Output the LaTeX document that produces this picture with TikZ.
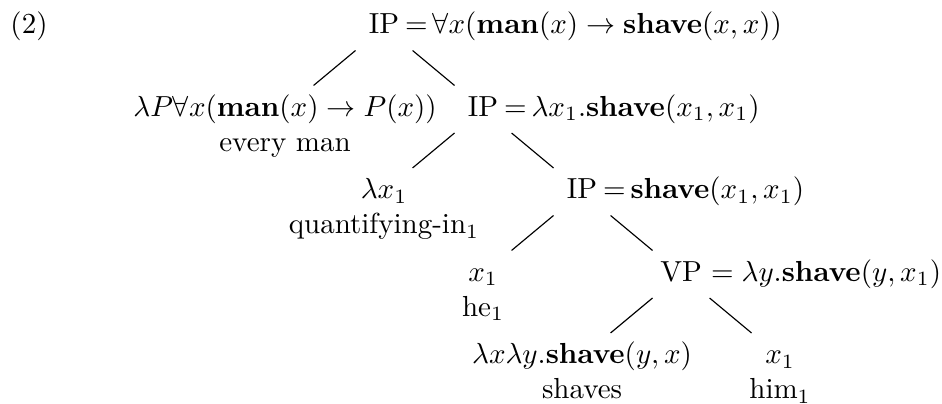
\documentclass[tikz,border=0pt]{standalone}
\begin{document}
\begin{tikzpicture}[
    lbl/.style={inner sep=0pt, anchor=base, text height=7.5pt, text depth=2.5pt},
    rest/.style={inner sep=0pt, anchor=base west},
    branch/.style={shorten <=0.45cm, shorten >=0.45cm}]
  \def\dx{1.2}    % cm sideways per level
  \def\dy{1.0}    % cm down per level
  \def\gap{12pt}  % word line under a leaf

  \useasboundingbox (0,0) rectangle (11.418,-4.885);
  \node[lbl, anchor=base west] (ex) at (0.12,-0.412) {(2)};

  \begin{scope}[shift={(4.655,-0.412)}]
    % ----- root -----
    \node[lbl] (ip0) at (0,0) {IP};
    \node[rest] (f0) at (ip0.base east)
      {$\,{=}\,\forall x(\mathbf{man}(x)\to\mathbf{shave}(x,x))$};

    % ----- level 1 -----
    \node[lbl] (n1) at (-\dx,-\dy) {$\lambda P\forall x(\mathbf{man}(x)\to P(x))$};
    \node[lbl] (w1) at ([yshift=-\gap]n1.base) {every man};
    \node[lbl] (ip1) at (\dx,-\dy) {IP};
    \node[rest] (f1) at (ip1.base east)
      {$\,{=}\,\lambda x_1.\mathbf{shave}(x_1,x_1)$};

    % ----- level 2 -----
    \node[lbl] (n2) at (0,-2*\dy) {$\lambda x_1$};
    \node[lbl] (w2) at ([yshift=-\gap]n2.base) {quantifying-in$_1$};
    \node[lbl] (ip2) at (2*\dx,-2*\dy) {IP};
    \node[rest] (f2) at (ip2.base east) {$\,{=}\,\mathbf{shave}(x_1,x_1)$};

    % ----- level 3 -----
    \node[lbl] (n3) at (\dx,-3*\dy) {$x_1$};
    \node[lbl] (w3) at ([yshift=-\gap]n3.base) {he$_1$};
    \node[lbl] (vp) at (3*\dx,-3*\dy) {VP};
    \node[rest] (f3) at (vp.base east) {${}=\lambda y.\mathbf{shave}(y,x_1)$};

    % ----- level 4 -----
    \node[lbl] (n4) at (2*\dx,-4*\dy) {$\lambda x\lambda y.\mathbf{shave}(y,x)$};
    \node[lbl] (w4) at ([yshift=-\gap]n4.base) {shaves};
    \node[lbl] (n5) at (4*\dx,-4*\dy) {$x_1$};
    \node[lbl] (w5) at ([yshift=-\gap]n5.base) {him$_1$};

    % ----- branches -----
    \draw[branch] (ip0.center) -- (n1.center);
    \draw[branch] (ip0.center) -- (ip1.center);
    \draw[branch] (ip1.center) -- (n2.center);
    \draw[branch] (ip1.center) -- (ip2.center);
    \draw[branch] (ip2.center) -- (n3.center);
    \draw[branch] (ip2.center) -- (vp.center);
    \draw[branch] (vp.center) -- (n4.center);
    \draw[branch] (vp.center) -- (n5.center);
  \end{scope}
\end{tikzpicture}
\end{document}
